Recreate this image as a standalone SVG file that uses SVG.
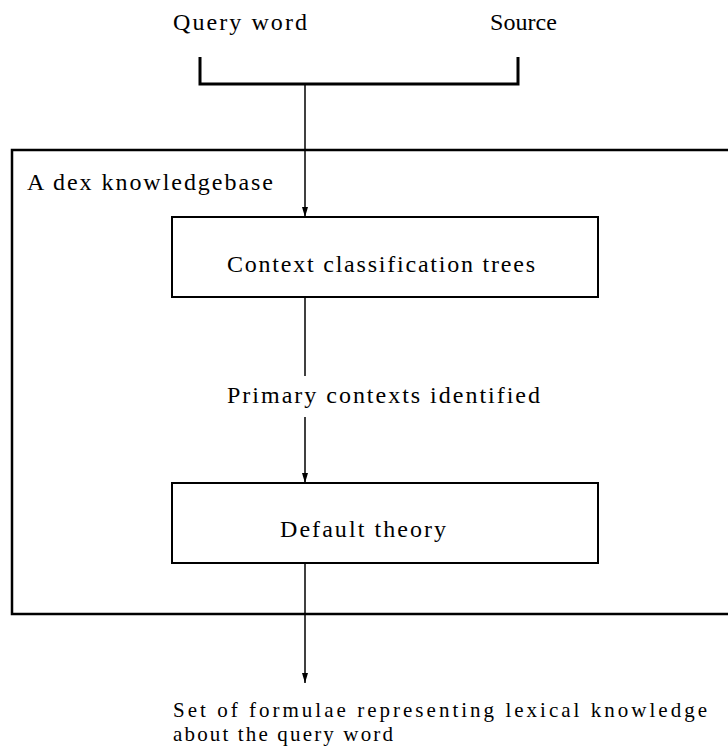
<svg xmlns="http://www.w3.org/2000/svg" width="728" height="754" viewBox="0 0 728 754">
  <style>
    text { font-family: "Liberation Serif", "DejaVu Serif", serif; font-size: 24px; fill: #000; }
    text.result { font-size: 21px; }
    .box { fill: none; stroke: #000; stroke-width: 2; }
    .frame { fill: none; stroke: #000; stroke-width: 2.5; }
    .line { fill: none; stroke: #000; stroke-width: 1.5; }
  </style>
  <defs>
    <marker id="tip" viewBox="0 0 10 6" refX="10" refY="3" markerWidth="10" markerHeight="6" markerUnits="userSpaceOnUse" orient="auto">
      <path d="M0,0 L10,3 L0,6 Z" fill="#000"/>
    </marker>
  </defs>

  <g id="inputs">
    <text x="173" y="30" textLength="134" lengthAdjust="spacing">Query word</text>
    <text x="490" y="30" textLength="67" lengthAdjust="spacing">Source</text>
  </g>

  <g id="knowledgebase">
    <rect class="frame" x="12" y="150" width="730" height="464"/>
    <text x="27" y="190" textLength="246" lengthAdjust="spacing">A dex knowledgebase</text>
  </g>

  <g id="context-trees">
    <rect class="box" x="172" y="217" width="426" height="80"/>
    <text x="227" y="272" textLength="308" lengthAdjust="spacing">Context classification trees</text>
  </g>

  <g id="primary-contexts">
    <text x="227" y="403" textLength="313" lengthAdjust="spacing">Primary contexts identified</text>
  </g>

  <g id="default-theory">
    <rect class="box" x="172" y="483" width="426" height="80"/>
    <text x="280" y="537" textLength="166" lengthAdjust="spacing">Default theory</text>
  </g>

  <g id="output">
    <text class="result" x="173" y="717" textLength="534" lengthAdjust="spacing">Set of formulae representing lexical knowledge</text>
    <text class="result" x="173" y="741" textLength="220" lengthAdjust="spacing">about the query word</text>
  </g>

  <g id="connectors">
    <path d="M200,57 V84 H518 V57" fill="none" stroke="#000" stroke-width="3"/>
    <path class="line" d="M305,84 V217" marker-end="url(#tip)"/>
    <path class="line" d="M305,297 V376"/>
    <path class="line" d="M305,417 V483" marker-end="url(#tip)"/>
    <path class="line" d="M305,563 V683" marker-end="url(#tip)"/>
  </g>
</svg>
